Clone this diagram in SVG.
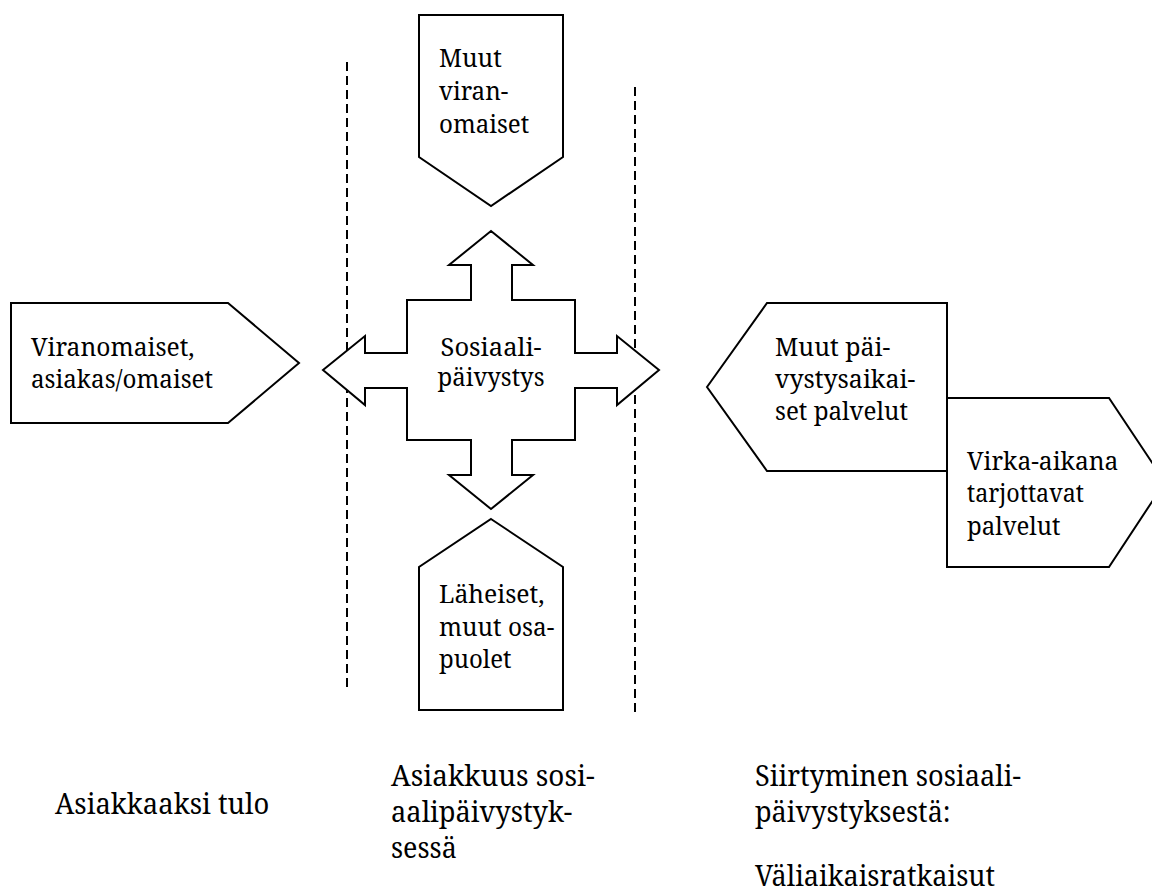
<svg xmlns="http://www.w3.org/2000/svg" width="1152" height="892" viewBox="0 0 1152 892">
<style>
.s{fill:#fff;stroke:#000;stroke-width:2;stroke-linejoin:miter}
.d{fill:none;stroke:#000;stroke-width:2;stroke-dasharray:9 5}
text{font-family:'Noto Serif','DejaVu Serif',serif;fill:#000}
.t{font-size:26px}
.b{font-size:29px}
</style>
<rect width="1152" height="892" fill="#fff"/>
<g id="connectors">
<line class="d" x1="347" y1="62" x2="347" y2="688"/>
<line class="d" x1="635" y1="87" x2="635" y2="712"/>
</g>
<g id="node-left">
<polygon class="s" points="11,303 228,303 299,363 228,423 11,423"/>
<text class="t" x="31" y="356" textLength="163.5" lengthAdjust="spacingAndGlyphs">Viranomaiset,</text>
<text class="t" x="31" y="388" textLength="182" lengthAdjust="spacingAndGlyphs">asiakas/omaiset</text>
</g>
<g id="node-top">
<polygon class="s" points="419,15 563,15 563,157 491,206 419,157"/>
<text class="t" x="439" y="67" textLength="62.8" lengthAdjust="spacingAndGlyphs">Muut</text>
<text class="t" x="439" y="100" textLength="69.3" lengthAdjust="spacingAndGlyphs">viran-</text>
<text class="t" x="439" y="133" textLength="90.2" lengthAdjust="spacingAndGlyphs">omaiset</text>
</g>
<g id="node-center">
<polygon class="s" points="491,231 533,265 512,265 512,300 575,300 575,353 617,353 617,336 659,370 617,405 617,388 575,388 575,440 512,440 512,475 533,475 491,509 449,475 471,475 471,440 407,440 407,388 365,388 365,405 323,370 365,336 365,353 407,353 407,300 471,300 471,265 449,265"/>
<text class="t" x="491" y="356" text-anchor="middle" textLength="101" lengthAdjust="spacingAndGlyphs">Sosiaali-</text>
<text class="t" x="491" y="386" text-anchor="middle" textLength="107" lengthAdjust="spacingAndGlyphs">päivystys</text>
</g>
<g id="node-bottom">
<polygon class="s" points="491,519 563,567 563,710 419,710 419,567"/>
<text class="t" x="439" y="603" textLength="105.5" lengthAdjust="spacingAndGlyphs">Läheiset,</text>
<text class="t" x="439" y="636" textLength="115.2" lengthAdjust="spacingAndGlyphs">muut osa-</text>
<text class="t" x="439" y="668" textLength="72.5" lengthAdjust="spacingAndGlyphs">puolet</text>
</g>
<g id="node-right1">
<polygon class="s" points="707,387 767,303 947,303 947,471 767,471"/>
<text class="t" x="775" y="356" textLength="115.2" lengthAdjust="spacingAndGlyphs">Muut päi-</text>
<text class="t" x="775" y="388" textLength="140.2" lengthAdjust="spacingAndGlyphs">vystysaikai-</text>
<text class="t" x="775" y="420" textLength="132.9" lengthAdjust="spacingAndGlyphs">set palvelut</text>
</g>
<g id="node-right2">
<polygon class="s" points="947,398 1109,398 1165,482 1109,567 947,567"/>
<text class="t" x="967" y="470" textLength="151.4" lengthAdjust="spacingAndGlyphs">Virka-aikana</text>
<text class="t" x="967" y="502" textLength="117" lengthAdjust="spacingAndGlyphs">tarjottavat</text>
<text class="t" x="967" y="535" textLength="93.4" lengthAdjust="spacingAndGlyphs">palvelut</text>
</g>
<g id="labels">
<text class="b" x="55" y="814" textLength="214.2" lengthAdjust="spacingAndGlyphs">Asiakkaaksi tulo</text>
<text class="b" x="391" y="786" textLength="203.6" lengthAdjust="spacingAndGlyphs">Asiakkuus sosi-</text>
<text class="b" x="391" y="822" textLength="181.3" lengthAdjust="spacingAndGlyphs">aalipäivystyk-</text>
<text class="b" x="391" y="858" textLength="65.8" lengthAdjust="spacingAndGlyphs">sessä</text>
<text class="b" x="755" y="786" textLength="265.8" lengthAdjust="spacingAndGlyphs">Siirtyminen sosiaali-</text>
<text class="b" x="755" y="822" textLength="195.6" lengthAdjust="spacingAndGlyphs">päivystyksestä:</text>
<text class="b" x="755" y="886" textLength="240" lengthAdjust="spacingAndGlyphs">Väliaikaisratkaisut</text>
</g>
</svg>
